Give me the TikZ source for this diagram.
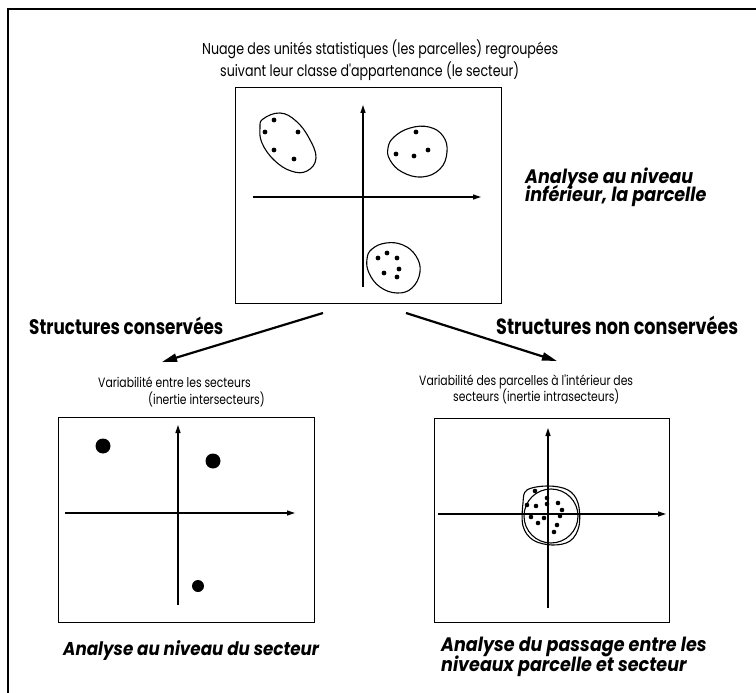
\documentclass[tikz,border=0pt]{standalone}
\usepackage{fontspec}
\setmainfont{Poppins}
\newfontfamily\regf[FakeStretch=0.8]{Poppins}
\newfontfamily\itf[FakeStretch=0.9]{Poppins}
\usetikzlibrary{arrows.meta}
\begin{document}
\begin{tikzpicture}[x=1pt,y=-1pt,
  panelbox/.style={draw,line width=1.2pt,inner sep=0pt,anchor=north west},
  axis/.style={line width=1.2pt,-{Triangle[length=8pt,width=5pt]}},
  bigarrow/.style={line width=2.2pt,-{Triangle[length=15pt,width=8pt]}},
  blob/.style={line width=1.1pt},
  ttl/.style={anchor=base west,inner sep=0pt,font=\regf\fontsize{15.8}{18}\selectfont},
  sub/.style={anchor=base west,inner sep=0pt,font=\regf\fontsize{13.5}{16}\selectfont},
  strong/.style={anchor=base west,inner sep=0pt,font=\regf\bfseries\fontsize{21}{23}\selectfont},
  strongit/.style={anchor=base west,inner sep=0pt,font=\itf\bfseries\itshape\fontsize{19.5}{21}\selectfont}]
\useasboundingbox (0,0) rectangle (756,693);
% outer frame
\draw[line width=1.6pt] (8,693) -- (8,9) -- (756,9);

% panels
\node[panelbox,minimum width=266pt,minimum height=216pt] (top) at (235,87) {};
\node[panelbox,minimum width=256pt,minimum height=205pt] (bl) at (58,417) {};
\node[panelbox,minimum width=235pt,minimum height=204pt] (br) at (434,418) {};

% top texts
\node[ttl] (t1) at (202,55) {Nuage des unités statistiques (les parcelles) regroupées};
\node[ttl] (t2) at (220,77) {suivant leur classe d'appartenance (le secteur)};
\node[strongit] (a1) at (525,183) {Analyse au niveau};
\node[strongit] (a2) at (525,201) {inférieur, la parcelle};

% top panel axes
\draw[axis] (363,287) -- (363,105);
\draw[axis] (253,197) -- (481,197);
% top panel clusters
\draw[blob] plot[smooth cycle,tension=0.7] coordinates {(263,119) (280,113) (296,121) (309,138) (316,158) (307,171) (291,171) (274,160) (262,143) (260,128)};
\draw[blob] plot[smooth cycle,tension=0.7] coordinates {(394,137) (410,128) (429,127) (443,136) (447,152) (440,169) (422,177) (402,172) (390,160) (388,148)};
\draw[blob] plot[smooth cycle,tension=0.7] coordinates {(372,249) (386,243) (403,245) (416,256) (420,272) (412,288) (397,293) (380,287) (369,273) (367,259)};
\foreach \p in {(274,120),(265,132),(298,132),(274,150),(294,159),
                (416,132),(396,154),(414,156),(428,150),
                (378,258),(387,253),(397,258),(399,269),(384,273),(397,277)}
  \fill \p circle (2.4pt);

% branch arrows
\coordinate (lend) at (162,362);
\coordinate (rend) at (557,361);
\coordinate (lstart) at (323,313);
\coordinate (rstart) at (406,313);
\draw[bigarrow] (lstart) -- (lend);
\draw[bigarrow] (rstart) -- (rend);
\node[strong] (s1) at (29,334) {Structures conservées};
\node[strong,font=\regf\bfseries\fontsize{22}{24}\selectfont] (s2) at (496,334) {Structures non conservées};

% bottom-left texts
\node[sub] (v1) at (98,387) {Variabilité entre les secteurs};
\node[sub] (v2) at (148,404) {(inertie intersecteurs)};
% bottom-right texts
\node[sub] (w1) at (419,385) {Variabilité des parcelles à l'intérieur des};
\node[sub] (w2) at (453,401) {secteurs (inertie intrasecteurs)};

% bottom-left panel
\draw[axis] (178,605) -- (178,425);
\draw[axis] (65,513) -- (295,513);
\fill (103,446) circle (7.5pt);
\fill (213,461) circle (7.5pt);
\fill (198,586) circle (6pt);

% bottom-right panel
\draw[axis] (548,608) -- (548,428);
\draw[axis] (438,514) -- (666,514);
\draw[blob] (551,516) circle (27pt);
\draw[blob] plot[smooth cycle,tension=0.6] coordinates {(527,490) (548,486) (568,490) (578,503) (579,526) (570,541) (552,545) (533,540) (523,526) (523,503)};
\foreach \p in {(535,491),(547,498),(547,504),(558,503),(562,510),(527,505),(536,506),
                (531,517),(544,518),(538,523),(557,525),(554,532),(560,516)}
  \fill \p circle (2.3pt);

% bottom captions
\node[strongit,font=\itf\bfseries\itshape\fontsize{18.6}{21}\selectfont] (c1) at (63,655) {Analyse au niveau du secteur};
\node[strongit] (c2) at (441,651) {Analyse du passage entre les};
\node[strongit] (c3) at (441,671) {niveaux parcelle et secteur};
\end{tikzpicture}
\end{document}
